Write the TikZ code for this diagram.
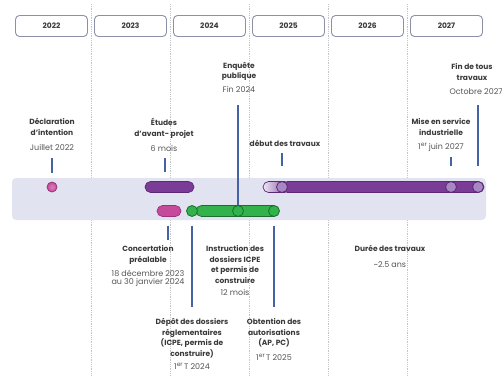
\documentclass[tikz,border=0pt]{standalone}
\usepackage{fontspec}
\setmainfont{Poppins}
\usetikzlibrary{positioning}

\definecolor{inkgray}{HTML}{3A3A3A}
\definecolor{dategray}{HTML}{555555}
\definecolor{boxline}{HTML}{8B91A9}
\definecolor{sepgray}{HTML}{C4C4C8}
\definecolor{bandc}{HTML}{E2E3F0}
\definecolor{tickblue}{HTML}{4662A6}
\definecolor{violetc}{HTML}{7A3C97}
\definecolor{violetline}{HTML}{5A2A75}
\definecolor{lilacc}{HTML}{A886C4}
\definecolor{fadec}{HTML}{EEE8F4}
\definecolor{pinkc}{HTML}{C64A9B}
\definecolor{pinkline}{HTML}{A0307A}
\definecolor{greenc}{HTML}{33B24B}
\definecolor{greenline}{HTML}{1B6E2E}

\newcommand{\datetxt}[1]{{\fontsize{8}{10.5}\selectfont\mdseries\color{dategray}#1}}
\newcommand{\premier}{1\textsuperscript{er}\kern-0.5pt}

\begin{document}
\begin{tikzpicture}[x=1pt, y=-1pt,
                    line width=1pt,
                    font=\fontsize{7.5}{10.5}\selectfont,
                    text=inkgray]
    \tikzstyle{year}=[draw=boxline, fill=white, rounded corners=4pt, line width=0.9pt, minimum width=72pt, minimum height=21pt, inner sep=0pt, font=\fontsize{7.5}{9}\selectfont\bfseries]
    \tikzstyle{label}=[align=center, anchor=north, inner sep=0pt, font=\fontsize{7.5}{10.5}\selectfont\bfseries]
    \tikzstyle{band}=[fill=bandc, rounded corners=4pt, minimum width=474pt, minimum height=42pt, inner sep=0pt]
    \tikzstyle{bar}=[rounded corners=5.5pt, minimum height=11pt, inner sep=0pt, line width=0.7pt]
    \tikzstyle{purplebar}=[bar, fill=violetc, draw=violetline]
    \tikzstyle{pinkbar}=[bar, fill=pinkc, draw=pinkline]
    \tikzstyle{greenbar}=[bar, fill=greenc, draw=greenline]
    \tikzstyle{dot}=[circle, minimum size=11pt, inner sep=0pt, line width=0.8pt]
    \tikzstyle{greendot}=[dot, fill=greenc, draw=greenline]
    \tikzstyle{lilacdot}=[dot, fill=lilacc, draw=violetline]
    \tikzstyle{pinkdot}=[dot, inner color=pinkc!70!white, outer color=pinkc, draw=pinkline, minimum size=10pt]
    \tikzstyle{tick}=[draw=tickblue, line width=1.8pt]

    \useasboundingbox (0,0) rectangle (502,375);

    % year columns
    \foreach \x in {91,170,249,328,407}
        \draw[sepgray, densely dotted, line width=0.8pt] (\x,4) -- (\x,375);
    \foreach \yr [count=\i] in {2022,2023,2024,2025,2026,2027}
        \node[year] (y\yr) at (51.5+79*\i-79,26) {\yr};

    \node[band] (band) at (249,199) {};

    % upper row
    \node[pinkdot] (declpt) at (52,187) {};
    \node[purplebar, minimum width=49pt] (etbar) at (169.5,187) {};
    \node[bar, left color=fadec, right color=violetc, draw=violetline, minimum width=27pt] (fade) at (276.5,187) {};
    \node[purplebar, minimum width=202pt] (works) at (383,187) {};
    \node[lilacdot] (startpt) at (282,187) {};
    \node[lilacdot] (servicept) at (451,187) {};
    \node[lilacdot] (finpt) at (478,187) {};

    % lower row
    \node[pinkbar, minimum width=24pt] (concbar) at (169,211) {};
    \node[greenbar, minimum width=83pt] (instrbar) at (237.5,211) {};
    \node[greendot] (depotpt) at (192,211) {};
    \node[greendot] (enqpt) at (238,211) {};
    \node[greendot] (obtpt) at (274,211) {};

    % labels above
    \node[label] (decl) at (52,118) {Déclaration\\d’intention\\[5pt]\datetxt{Juillet 2022}};
    \node[label] (etudes) at (164,118) {Études\\d’avant- projet\\[5pt]\datetxt{6 mois}};
    \node[label] (enquete) at (239,62) {Enquête\\publique\\[3pt]\datetxt{Fin 2024}};
    \node[label] (debut) at (285,140) {début des travaux};
    \node[label] (mise) at (441,118) {Mise en service\\industrielle\\[4pt]\datetxt{\premier\ juin 2027}};
    \node[label] (fin) at (472,63) {Fin de tous\\travaux};
    \node[label, anchor=west] (findate) at (449,92) {\datetxt{Octobre 2027}};

    % labels below
    \node[label] (concert) at (148,245) {Concertation\\préalable\\[4pt]\datetxt{18 décembre 2023}\\[-2.5pt]\datetxt{au 30 janvier 2024}};
    \node[label] (instr) at (235,245) {Instruction des\\dossiers ICPE\\et permis de\\construire\\[1.5pt]\datetxt{12 mois}};
    \node[label] (duree) at (390,245) {Durée des travaux\\[5pt]\datetxt{\textasciitilde2.5 ans}};
    \node[label] (depot) at (192,318) {Dépôt des dossiers\\réglementaires\\(ICPE, permis de\\construire)\\[3pt]\datetxt{\premier\,T 2024}};
    \node[label] (obt) at (274,318) {Obtention des\\autorisations\\(AP, PC)\\[4pt]\datetxt{\premier\,T 2025}};

    % ticks
    \coordinate (decl-t) at (52,158);
    \draw[tick, shorten >=9pt] (decl-t) -- (declpt);
    \coordinate (etudes-t) at (165,158);
    \draw[tick, shorten >=9pt] (etudes-t) -- (etudes-t |- etbar.north);
    \coordinate (enq-t) at (238,105);
    \draw[tick] (enq-t) -- (enqpt);
    \coordinate (debut-t) at (282,153);
    \draw[tick, shorten >=15pt] (debut-t) -- (startpt);
    \coordinate (mise-t) at (451,157);
    \draw[tick, shorten >=15pt] (mise-t) -- (servicept);
    \coordinate (fin-t) at (478,105);
    \draw[tick, shorten >=15pt] (fin-t) -- (finpt);
    \coordinate (conc-t) at (168,240);
    \draw[tick, shorten <=9pt] (conc-t |- concbar.south) -- (conc-t);
    \coordinate (depot-t) at (192,307);
    \draw[tick, shorten <=9pt] (depotpt) -- (depot-t);
    \coordinate (obt-t) at (274,307);
    \draw[tick, shorten <=9pt] (obtpt) -- (obt-t);
\end{tikzpicture}
\end{document}
